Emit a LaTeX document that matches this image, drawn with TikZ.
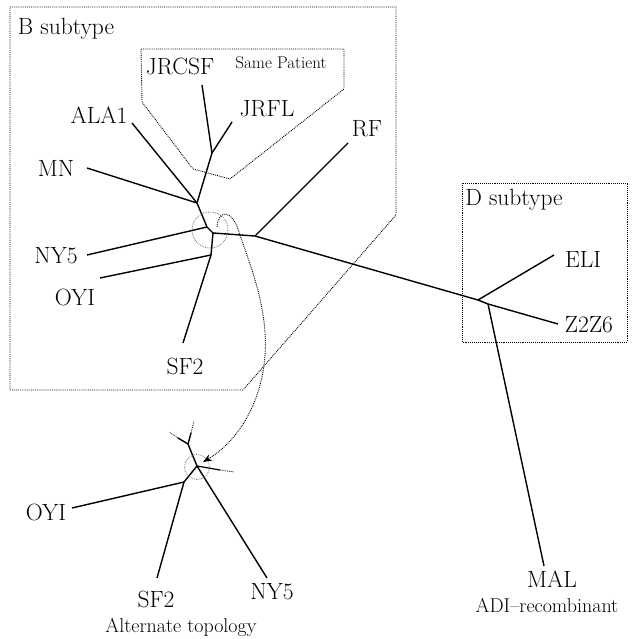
\documentclass[tikz,border=0pt]{standalone}
\usetikzlibrary{arrows.meta}

\begin{document}
\begin{tikzpicture}[x=1pt,y=-1pt,
  branch/.style={line width=1.4pt,line join=round},
  twig/.style={line width=0.8pt,densely dotted},
  box/.style={line width=0.9pt,densely dotted},
  ring/.style={line width=0.8pt,densely dotted,black!55},
  leaf/.style={anchor=base,inner sep=0pt,font=\fontsize{23.5}{24}\selectfont},
  small/.style={anchor=base,inner sep=0pt,font=\fontsize{17}{18}\selectfont},
  capt/.style={anchor=base,inner sep=0pt,font=\fontsize{20}{22}\selectfont}]
  \useasboundingbox (0,0) rectangle (636,639);

  % boxes
  \draw[box] (10,7)--(396,7)--(396,215)--(243,390)--(10,390)--cycle;
  \draw[box] (141,49)--(344,49)--(344,89)--(230,179)--(193,169)--(142,102)--cycle;
  \draw[box] (462,183) rectangle (627,342);
  \node[leaf] (bsub) at (66,35) {B subtype};
  \node[small] (same) at (281,69) {Same Patient};
  \node[leaf] (dsub) at (514,205) {D subtype};

  % main tree, inner points
  \coordinate (jp) at (212,153);
  \coordinate (ja) at (197,203);
  \coordinate (jn) at (207,227);
  \coordinate (c) at (213,233);
  \coordinate (jo) at (211,255);
  \coordinate (jr) at (255,236);
  \coordinate (jd) at (478,300);
  \coordinate (jm) at (488,304);
  % main tree, leaf ends
  \coordinate (jrcsfend) at (202,85);
  \coordinate (jrflend) at (232,122);
  \coordinate (alaend) at (132,123);
  \coordinate (mnend) at (87,168);
  \coordinate (nyend) at (87,255);
  \coordinate (oyiend) at (100,278);
  \coordinate (sfend) at (183,343);
  \coordinate (rfend) at (348,143);
  \coordinate (eliend) at (554,255);
  \coordinate (zzend) at (558,324);
  \coordinate (malend) at (544,566);

  \draw[branch] (jrcsfend)--(jp)--(ja)--(jn)--(c)--(jo)--(sfend);
  \draw[branch] (jrflend)--(jp);
  \draw[branch] (alaend)--(ja);
  \draw[branch] (mnend)--(ja);
  \draw[branch] (nyend)--(jn);
  \draw[branch] (oyiend)--(jo);
  \draw[branch] (c)--(jr)--(jd)--(jm)--(zzend);
  \draw[branch] (jr)--(rfend);
  \draw[branch] (jd)--(eliend);
  \draw[branch] (jm)--(malend);

  \node[leaf] (jrcsf) at (180,75) {JRCSF};
  \node[leaf] (jrfl) at (267,117) {JRFL};
  \node[leaf] (ala) at (99,124) {ALA1};
  \node[leaf] (mn) at (56,176) {MN};
  \node[leaf] (ny) at (56,263) {NY5};
  \node[leaf] (oyi) at (75,305) {OYI};
  \node[leaf] (sf) at (185,374) {SF2};
  \node[leaf] (rf) at (367,137) {RF};
  \node[leaf] (eli) at (583,267) {ELI};
  \node[leaf] (zz) at (589,332) {Z2Z6};
  \node[leaf] (mal) at (552,587) {MAL};
  \node[capt] (adi) at (547,612) {ADI\textendash recombinant};

  % alternate topology
  \coordinate (ja1) at (188,444);
  \coordinate (ca) at (197,466);
  \coordinate (ja2) at (184,482);
  \coordinate (upa) at (191,433);
  \coordinate (upb) at (194,421);
  \coordinate (lfa) at (178,438);
  \coordinate (lfb) at (169,432);
  \coordinate (rta) at (220,470);
  \coordinate (rtb) at (234,472);
  \coordinate (oyibend) at (72,508);
  \coordinate (sfbend) at (157,578);
  \coordinate (nybend) at (267,578);

  \draw[branch] (upa)--(ja1)--(ca)--(ja2)--(sfbend);
  \draw[branch] (lfa)--(ja1);
  \draw[branch] (ja2)--(oyibend);
  \draw[branch] (ca)--(nybend);
  \draw[line width=1.2pt] (ca)--(rta);
  \draw[twig] (upa)--(upb);
  \draw[twig] (lfa)--(lfb);
  \draw[twig] (rta)--(rtb);

  \node[leaf] (oyib) at (46,520) {OYI};
  \node[leaf] (sfb) at (156,607) {SF2};
  \node[leaf] (nyb) at (272,599) {NY5};
  \node[capt] (alt) at (181,632) {Alternate topology};

  % rings and swap arrow
  \draw[ring] (210,230) circle (18);
  \draw[ring] (197,467) circle (12.5);
  \coordinate (hook) at (217,227);
  \coordinate (tip) at (203,462);
  \draw[box,-{Stealth[length=9pt,width=7pt]}] (hook)
    .. controls (218,210) and (232,207) .. (240,235)
    .. controls (252,270) and (268,310) .. (265,355)
    .. controls (262,400) and (240,440) .. (tip);
\end{tikzpicture}
\end{document}
